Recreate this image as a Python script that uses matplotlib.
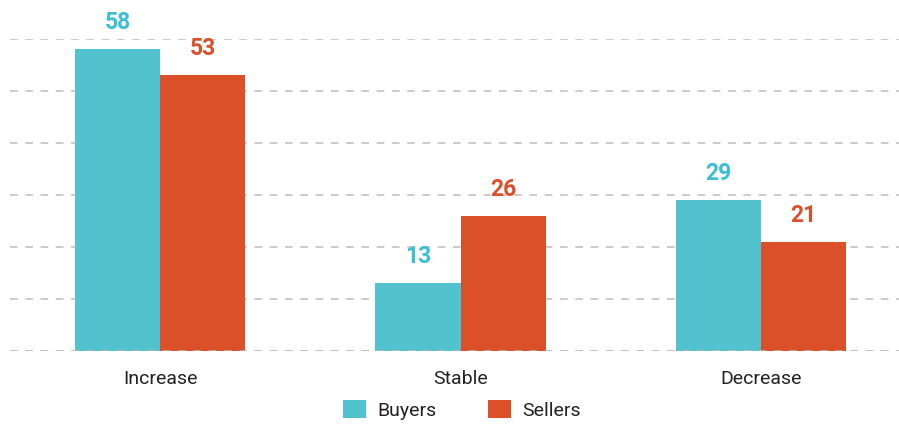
import matplotlib
matplotlib.use("Agg")
import matplotlib.pyplot as plt
import numpy as np

categories = ["Increase", "Stable", "Decrease"]
buyers = [58, 13, 29]
sellers = [53, 26, 21]
series_names = ["Buyers", "Sellers"]
yticks = [0, 10, 20, 30, 40, 50, 60]

bar_colors = ["#52C3CE", "#DB5028"]
label_colors = ["#3DBFD3", "#D9502A"]

plt.rcParams['font.family'] = ['Roboto', 'DejaVu Sans']

fig = plt.figure(figsize=(8.99, 4.25), dpi=100)
ax = fig.add_axes([10/899, (425-351)/425, 889/899, (351-39)/425])

x = np.arange(len(categories))
w = 0.284
b1 = ax.bar(x - w/2, buyers, w, color=bar_colors[0], label=series_names[0], zorder=2)
b2 = ax.bar(x + w/2, sellers, w, color=bar_colors[1], label=series_names[1], zorder=2)

for bars, vals, c in [(b1, buyers, label_colors[0]), (b2, sellers, label_colors[1])]:
    for r, v in zip(bars, vals):
        ax.annotate(str(v), (r.get_x() + r.get_width()/2, v), xytext=(0, 11),
                    textcoords="offset points", ha="center", va="bottom",
                    fontsize=16.5, fontweight="bold", color=c, clip_on=False)

ax.set_xlim(-0.5, 2.46)
ax.set_ylim(0, 60)
ax.set_yticks(yticks)
ax.yaxis.grid(True, color="#BDBDBD", linestyle=(0, (5, 5)), linewidth=1.1, zorder=0)
ax.axhline(0, color="#BDBDBD", linestyle=(0, (5, 5)), linewidth=1.1, zorder=3)
ax.tick_params(axis="y", left=False, labelleft=False)
ax.tick_params(axis="x", bottom=False, labelsize=14, colors="#222222", pad=10)
ax.set_xticks(x)
ax.set_xticklabels(categories)
for s in ax.spines.values():
    s.set_visible(False)

fig.legend(handles=[b1, b2], labels=series_names, loc="center",
           bbox_to_anchor=(462/899, 0.035), ncol=2, frameon=False,
           fontsize=14, handlelength=1.2, handleheight=1.0, columnspacing=2.6,
           handletextpad=0.6, labelcolor="#222222", borderpad=0.2)

fig.savefig("out.png", dpi=100)
